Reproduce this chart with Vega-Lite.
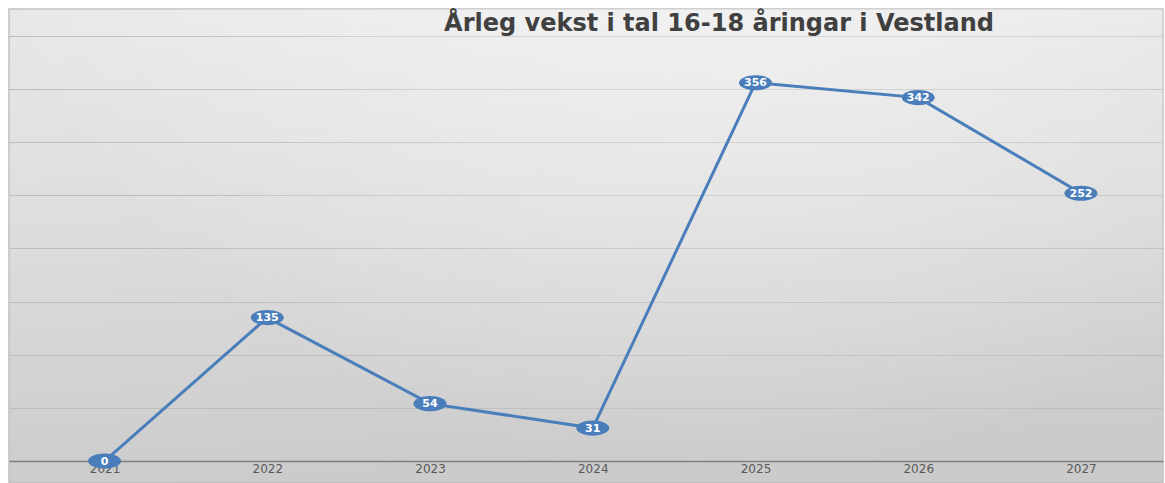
{
  "$schema": "https://vega.github.io/schema/vega-lite/v6.json",
  "width": 1154,
  "height": 474,
  "autosize": {"type": "none"},
  "padding": {"left": 9, "top": 9, "right": 2, "bottom": 0},
  "background": "white",
  "title": {
    "text": "Årleg vekst i tal 16-18 åringar i Vestland",
    "font": "DejaVu Sans",
    "fontSize": 24,
    "fontWeight": "bold",
    "color": "#404040",
    "anchor": "middle",
    "baseline": "alphabetic",
    "offset": 0,
    "dx": 133,
    "dy": 46
  },
  "config": {
    "view": {
      "stroke": "#c0c0c0",
      "strokeWidth": 1.5,
      "fill": {
        "gradient": "linear",
        "x1": 0, "y1": 0, "x2": 0.15, "y2": 1,
        "stops": [
          {"offset": 0, "color": "#e8e8e8"},
          {"offset": 0.5, "color": "#dcdcdc"},
          {"offset": 1, "color": "#cbcbcb"}
        ]
      }
    }
  },
  "layer": [
    {
      "data": {"values": [{}]},
      "mark": {
        "type": "rect",
        "color": {
          "gradient": "radial",
          "x1": 0.62, "y1": 0, "x2": 0.62, "y2": 0, "r1": 0, "r2": 0.7,
          "stops": [
            {"offset": 0, "color": "rgba(255,255,255,0.75)"},
            {"offset": 1, "color": "rgba(255,255,255,0)"}
          ]
        }
      },
      "encoding": {}
    },
    {
      "data": {
        "values": [
          {"year": 2021, "value": 0},
          {"year": 2022, "value": 135},
          {"year": 2023, "value": 54},
          {"year": 2024, "value": 31},
          {"year": 2025, "value": 356},
          {"year": 2026, "value": 342},
          {"year": 2027, "value": 252}
        ]
      },
      "encoding": {
        "x": {
          "field": "year",
          "type": "quantitative",
          "scale": {"domain": [2020.413, 2027.504], "nice": false, "zero": false},
          "axis": {
            "values": [2021, 2022, 2023, 2024, 2025, 2026, 2027],
            "format": "d",
            "grid": false,
            "ticks": false,
            "domain": true,
            "domainColor": "#7f7f7f",
            "domainWidth": 1.5,
            "offset": -22,
            "labelColor": "#595959",
            "labelFont": "DejaVu Sans",
            "labelFontSize": 12,
            "labelPadding": 2,
            "title": null
          }
        },
        "y": {
          "field": "value",
          "type": "quantitative",
          "scale": {"domain": [-20.7, 425.4], "nice": false, "zero": false},
          "axis": {
            "values": [50, 100, 150, 200, 250, 300, 350, 400],
            "grid": true,
            "gridColor": "#bdbdbd",
            "gridWidth": 1,
            "labels": false,
            "ticks": false,
            "domain": false,
            "title": null
          }
        }
      },
      "layer": [
        {"mark": {"type": "line", "color": "#4a7ebb", "strokeWidth": 3}},
        {
          "mark": {
            "type": "point",
            "filled": true,
            "opacity": 1,
            "color": "#4a7ebb",
            "shape": "M-1,0A1,0.46,0,1,0,1,0A1,0.46,0,1,0,-1,0Z",
            "size": 1089
          }
        },
        {
          "mark": {
            "type": "text",
            "color": "white",
            "font": "DejaVu Sans",
            "fontWeight": "bold",
            "fontSize": 11,
            "align": "center",
            "baseline": "middle",
            "dy": 0.5
          },
          "encoding": {"text": {"field": "value", "type": "quantitative"}}
        }
      ]
    }
  ]
}
